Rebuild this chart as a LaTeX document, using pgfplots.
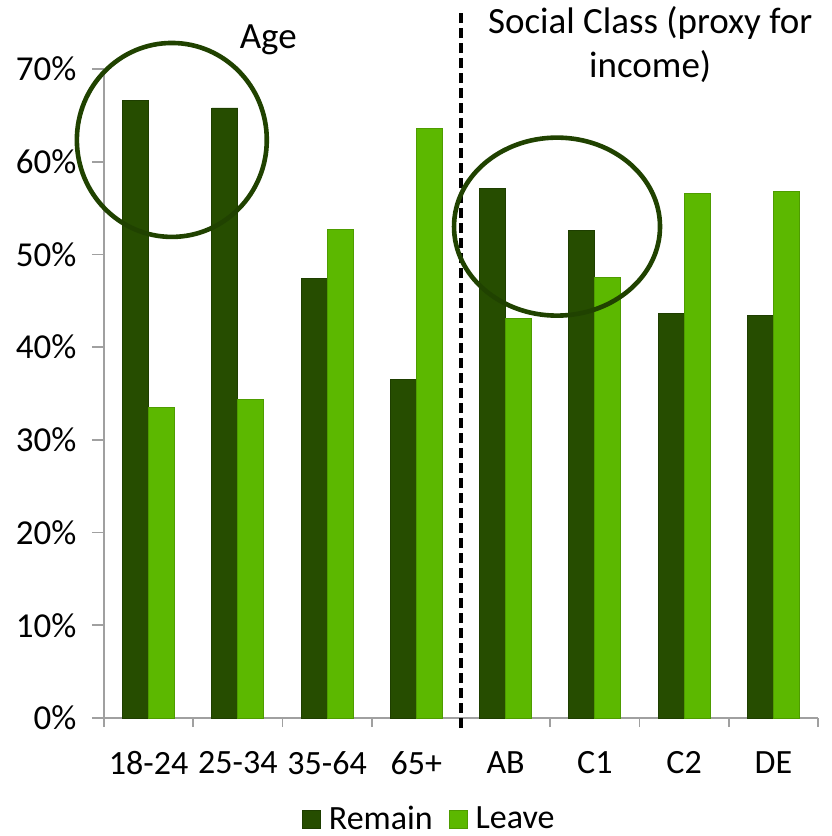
\documentclass[border=0pt]{standalone}
\usepackage{pgfplots}
\pgfplotsset{compat=1.18}
\usepackage{fontspec}
\setmainfont{Carlito}

\definecolor{remain}{HTML}{264D00}
\definecolor{leave}{HTML}{5CB800}
\definecolor{axisgray}{HTML}{A0A0A0}

\begin{document}
\fontsize{17}{20.5}\selectfont
\begin{tikzpicture}
\path[use as bounding box] (-52pt,-59pt) rectangle (363.5pt,359pt);
\begin{axis}[
    at={(0,0)}, anchor=south west,
    scale only axis, width=357pt, height=324.5pt,
    ybar, ybar=0pt, bar width=13pt,
    xmin=-0.5, xmax=7.5, ymin=0, ymax=70,
    axis lines=left,
    axis line style={-, axisgray, line width=0.8pt},
    xtick={0,...,7},
    xticklabels={18-24,25-34,35-64,65+,AB,C1,C2,DE},
    minor xtick={-0.5,0.5,...,7.5},
    ytick={0,10,...,70},
    yticklabels={0\%,10\%,20\%,30\%,40\%,50\%,60\%,70\%},
    tick align=outside,
    major tick length=6pt,
    minor tick length=4.5pt,
    tick style={axisgray, line width=0.8pt},
    major x tick style={draw=none},
    xticklabel style={yshift=-5pt},
    yticklabel style={xshift=-2pt, font=\fontsize{17.5}{20}\selectfont},
    clip=false,
    legend style={at={(0.457,-0.157)}, anchor=center, draw=none,
        legend columns=-1,
        /tikz/every odd column/.append style={column sep=2pt},
        /tikz/every even column/.append style={column sep=6pt}},
    legend image code/.code={\draw[#1] (0pt,-4.5pt) rectangle (9pt,4.5pt);},
]
\addplot[fill=remain, draw=remain!80!black] coordinates {
    (0,66.6) (1,65.8) (2,47.4) (3,36.5) (4,57.1) (5,52.6) (6,43.6) (7,43.4)};
\addplot[fill=leave, draw=leave!85!black] coordinates {
    (0,33.5) (1,34.4) (2,52.7) (3,63.6) (4,43.1) (5,47.5) (6,56.6) (7,56.8)};
\legend{Remain, Leave}

\draw[black, line width=2pt, dash pattern=on 5pt off 2.5pt]
    (axis cs:3.5,-1.1) -- (axis cs:3.5,76.2);
\draw[remain!85!black, line width=2.3pt] (axis cs:0.26,62.35) ellipse [x radius=1.064, y radius=10.46];
\draw[remain!85!black, line width=2.3pt] (axis cs:4.576,53.0) ellipse [x radius=1.154, y radius=9.6];
\node[font=\fontsize{18.5}{22}\selectfont] at (axis cs:1.34,73.1) {Age};
\node[align=center, font=\fontsize{18.5}{22}\selectfont] at (axis cs:5.62,72.6) {Social Class (proxy for\\income)};
\end{axis}
\end{tikzpicture}
\end{document}
